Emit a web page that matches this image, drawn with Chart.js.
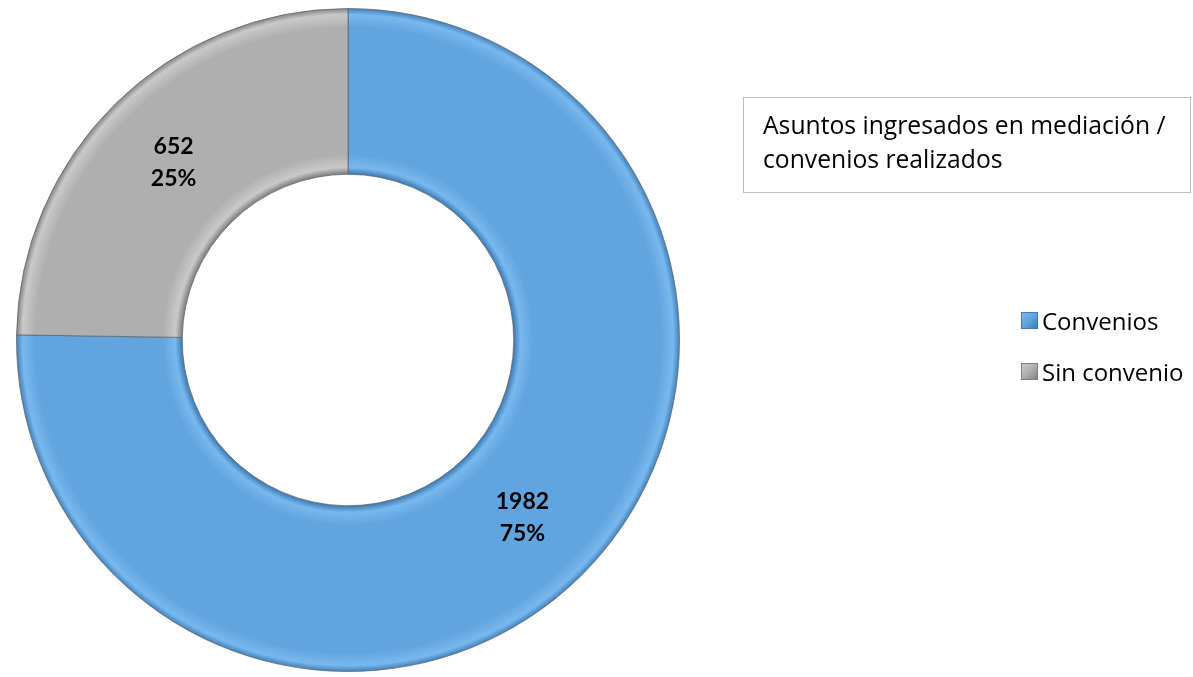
<!DOCTYPE html>
<html>
<head>
<meta charset="utf-8">
<script src="https://cdn.jsdelivr.net/npm/chart.js@4/dist/chart.umd.min.js"></script>
<style>
    html, body { margin: 0; padding: 0; background: #fff; }
    #wrap { position: relative; width: 1193px; height: 677px; overflow: hidden; font-family: 'Open Sans', Lato, sans-serif; }
    #donut { position: absolute; left: 0; top: 0; }
    .title-box {
        position: absolute; left: 743px; top: 97px; width: 448px; height: 96px;
        border: 1px solid #bdbdbd; box-sizing: border-box;
        padding: 10px 0 0 19px; font-size: 24.7px; line-height: 34px; color: #000;
    }
    .legend { position: absolute; left: 1021px; top: 295px; }
    .legend-item { display: flex; align-items: center; height: 51px; font-size: 24px; color: #000; }
    .legend-item .box { width: 17px; height: 17px; margin-right: 4px; box-sizing: border-box; }
</style>
</head>
<body>
<div id="wrap">
    <canvas id="donut" width="1193" height="677"></canvas>
    <div class="title-box">Asuntos ingresados en mediación /<br>convenios realizados</div>
    <div class="legend" id="legend"></div>
</div>
<script>
const categories = ['Convenios', 'Sin convenio'];
const counts = [1982, 652];
const baseColors = ['#60a4e0', '#afafaf'];
const edgeColors = ['#3f7cb6', '#808080'];
const lightColors = ['#78b8ee', '#c9c9c9'];

// bevel look: radial gradient across the ring
function ringGradient(ctx, idx) {
    const chart = ctx.chart;
    const area = chart.chartArea;
    if (!area) return baseColors[idx];
    const cx = (area.left + area.right) / 2;
    const cy = (area.top + area.bottom) / 2;
    const outer = Math.min(area.width, area.height) / 2;
    const inner = outer * 0.5;
    const g = chart.ctx.createRadialGradient(cx, cy, inner, cx, cy, outer);
    g.addColorStop(0, edgeColors[idx]);
    g.addColorStop(0.04, lightColors[idx]);
    g.addColorStop(0.12, baseColors[idx]);
    g.addColorStop(0.88, baseColors[idx]);
    g.addColorStop(0.96, lightColors[idx]);
    g.addColorStop(1, edgeColors[idx]);
    return g;
}

const valueLabels = {
    id: 'valueLabels',
    afterDatasetsDraw(chart) {
        const ctx = chart.ctx;
        const meta = chart.getDatasetMeta(0);
        const total = counts.reduce((a, b) => a + b, 0);
        ctx.save();
        ctx.font = 'bold 23px Lato, "Open Sans", sans-serif';
        ctx.fillStyle = '#000';
        ctx.textAlign = 'center';
        ctx.textBaseline = 'middle';
        meta.data.forEach((arc, i) => {
            const p = arc.tooltipPosition();
            const pct = Math.round(counts[i] / total * 100) + '%';
            ctx.fillText(String(counts[i]), p.x, p.y - 16);
            ctx.fillText(pct, p.x, p.y + 16);
        });
        ctx.restore();
    }
};

const chart = new Chart(document.getElementById('donut'), {
    type: 'doughnut',
    data: {
        labels: categories,
        datasets: [{
            data: counts,
            backgroundColor: (c) => ringGradient(c, c.dataIndex),
            borderColor: 'rgba(95,95,95,0.7)',
            borderWidth: 1
        }]
    },
    options: {
        responsive: false,
        animation: false,
        cutout: '50%',
        rotation: 0,
        layout: { padding: { left: 16, top: 8, right: 513, bottom: 5 } },
        plugins: {
            legend: { display: false },
            tooltip: { enabled: false }
        }
    },
    plugins: [valueLabels]
});

// html legend from the same arrays
const legend = document.getElementById('legend');
categories.forEach((name, i) => {
    const item = document.createElement('div');
    item.className = 'legend-item';
    item.innerHTML = `<span class="box" style="background:linear-gradient(135deg, ${lightColors[i]}, ${baseColors[i]} 50%, ${edgeColors[i]});border:1px solid ${edgeColors[i]}"></span>${name}`;
    legend.appendChild(item);
});
</script>
</body>
</html>
